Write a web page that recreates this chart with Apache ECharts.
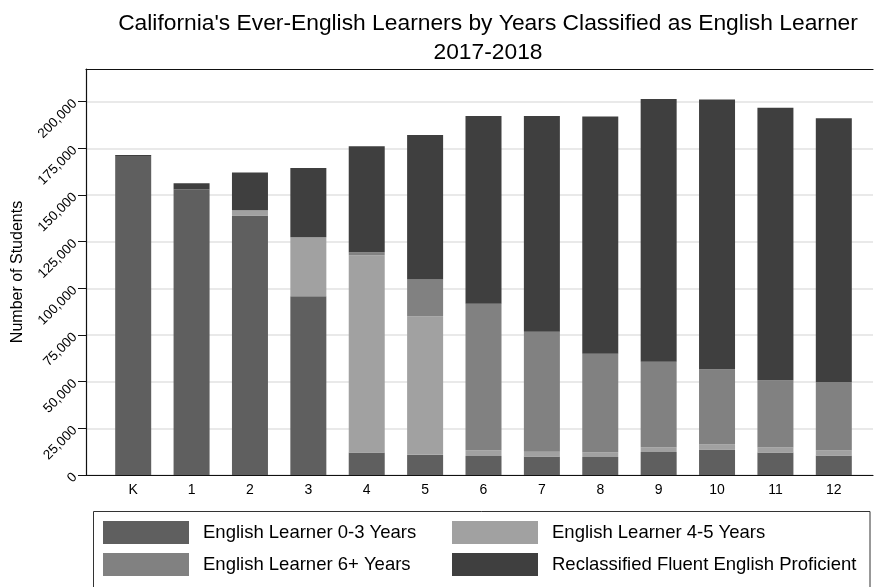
<!DOCTYPE html>
<html>
<head>
<meta charset="utf-8">
<script src="https://cdn.jsdelivr.net/npm/echarts@6/dist/echarts.min.js"></script>
<style>
  html, body { margin: 0; padding: 0; background: #fff; }
  #main { width: 874px; height: 587px; }
</style>
</head>
<body>
<div id="main"></div>
<script>
// grades on the x axis
var grades = ['K', '1', '2', '3', '4', '5', '6', '7', '8', '9', '10', '11', '12'];

// students per group
var el03 = [170900, 153000, 139000, 95700, 12000, 10900, 10200, 9900, 9600, 12300, 13600, 12000, 10400];
var el45 = [0, 0, 2800, 31600, 105700, 74100, 3000, 2600, 2600, 2500, 2700, 2700, 2700];
var el6plus = [0, 0, 0, 0, 1600, 19700, 78600, 64300, 52800, 45900, 40300, 36000, 36700];
var rfep = [500, 3300, 20200, 37200, 56800, 77400, 100500, 115500, 127000, 140700, 144500, 146100, 141300];

// y tick labels
var yTicks = [0, 25000, 50000, 75000, 100000, 125000, 150000, 175000, 200000];

var seriesNames = [
    'English Learner 0-3 Years',
    'English Learner 4-5 Years',
    'English Learner 6+ Years',
    'Reclassified Fluent English Proficient'
];

var font = 'Liberation Sans, Arial, Helvetica, sans-serif';
var yMax = 217500;

var myChart = echarts.init(document.getElementById('main'), null, { renderer: 'canvas' });

function bar(name, data, color) {
    return {
        name: name,
        type: 'bar',
        stack: 'total',
        xAxisIndex: 2,
        yAxisIndex: 1,
        barWidth: 36,
        itemStyle: { color: color },
        data: data
    };
}

var legendText = { fontSize: 18.5, color: '#000', fontFamily: font, padding: [0, 0, 0, 9] };

var option = {
    animation: false,
    backgroundColor: '#fff',
    textStyle: { fontFamily: font },
    title: {
        text: "California's Ever-English Learners by Years Classified as English Learner\n2017-2018",
        left: 483,
        top: 4,
        textAlign: 'center',
        textStyle: {
            fontFamily: font,
            fontSize: 22.8,
            fontWeight: 'normal',
            color: '#000',
            lineHeight: 29
        }
    },
    // two legends give the 2x2 layout
    legend: [
        {
            orient: 'vertical',
            left: 103,
            top: 521,
            padding: 0,
            itemWidth: 86,
            itemHeight: 23,
            itemGap: 9,
            icon: 'rect',
            textStyle: legendText,
            data: [seriesNames[0], seriesNames[2]]
        },
        {
            orient: 'vertical',
            left: 452,
            top: 521,
            padding: 0,
            itemWidth: 86,
            itemHeight: 23,
            itemGap: 9,
            icon: 'rect',
            textStyle: legendText,
            data: [seriesNames[1], seriesNames[3]]
        }
    ],
    graphic: [
        {
            type: 'rect',
            shape: { x: 93.5, y: 511.5, width: 776.5, height: 90 },
            style: { fill: 'none', stroke: '#333', lineWidth: 1 }
        }
    ],
    grid: [
        // frame, gridlines and y axis
        { left: 86, right: 1, top: 69, bottom: 112 },
        // bars
        { left: 104, right: 11, top: 69, bottom: 112 }
    ],
    xAxis: [
        {
            type: 'value',
            gridIndex: 0,
            position: 'bottom',
            min: 0,
            max: 1,
            axisLine: { show: true, lineStyle: { color: '#111', width: 1.2 } },
            axisTick: { show: false },
            axisLabel: { show: false },
            splitLine: { show: false }
        },
        {
            type: 'value',
            gridIndex: 0,
            position: 'top',
            min: 0,
            max: 1,
            axisLine: { show: true, lineStyle: { color: '#111', width: 1.2 } },
            axisTick: { show: false },
            axisLabel: { show: false },
            splitLine: { show: false }
        },
        {
            type: 'category',
            gridIndex: 1,
            data: grades,
            axisLine: { show: false },
            axisTick: { show: false },
            axisLabel: { fontSize: 14, color: '#000', margin: 8, fontFamily: font }
        }
    ],
    yAxis: [
        {
            type: 'value',
            gridIndex: 0,
            min: 0,
            max: yMax,
            interval: 25000,
            name: 'Number of Students',
            nameLocation: 'middle',
            nameGap: 60,
            nameTextStyle: { fontSize: 16, color: '#000', fontFamily: font },
            axisLine: { show: true, lineStyle: { color: '#111', width: 1.2 } },
            axisTick: { show: true, length: 8, customValues: yTicks, lineStyle: { color: '#111' } },
            axisLabel: {
                rotate: 45,
                margin: 11,
                fontSize: 13.5,
                color: '#000',
                fontFamily: font,
                customValues: yTicks,
                formatter: function (v) { return v.toLocaleString('en-US'); }
            },
            splitLine: { show: true, lineStyle: { color: '#e2e2e2', width: 1.5 } }
        },
        {
            type: 'value',
            gridIndex: 1,
            min: 0,
            max: yMax,
            show: false,
            splitLine: { show: false }
        }
    ],
    series: [
        bar(seriesNames[0], el03, '#5f5f5f'),
        bar(seriesNames[1], el45, '#a1a1a1'),
        bar(seriesNames[2], el6plus, '#818181'),
        bar(seriesNames[3], rfep, '#3f3f3f')
    ]
};

if (option && typeof option === 'object') {
    myChart.setOption(option, true);
}
</script>
</body>
</html>
